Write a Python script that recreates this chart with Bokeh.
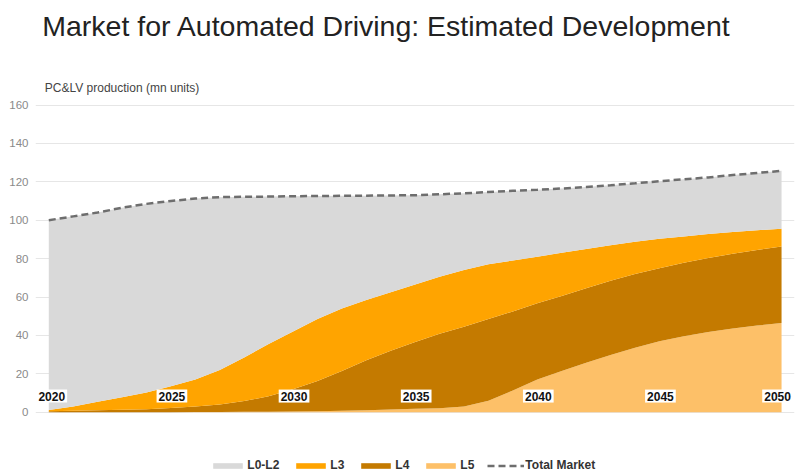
from bokeh.plotting import figure
from bokeh.models import ColumnDataSource, Range1d, FixedTicker, Label, Legend, LegendItem
from bokeh.transform import stack
from bokeh.embed import file_html
from bokeh.resources import INLINE

# ---------------- data ----------------
years = list(range(2020, 2051))
# stacked from the bottom: L5, L4, L3, L0-L2 (mn units)
l5 = [0, 0, 0, 0, 0, 0, 0.1, 0.1, 0.2, 0.2,
      0.3, 0.5, 0.7, 1.0, 1.4, 1.8, 2.1, 3.0, 6.0, 11.3,
      17.0, 21.5, 25.7, 29.8, 33.6, 36.9, 39.6, 41.8, 43.6, 45.1,
      46.4]
l4 = [0.5, 0.7, 1.0, 1.3, 1.6, 2.2, 2.9, 3.9, 5.6, 8.1,
      11.7, 15.7, 20.8, 26.0, 30.6, 34.7, 38.7, 41.5, 42.5, 41.2,
      39.8, 39.0, 38.8, 38.7, 38.4, 38.1, 38.2, 38.5, 38.9, 39.4,
      39.9]
l3 = [0.7, 2.3, 4.4, 6.5, 8.7, 11.3, 14.0, 18.0, 22.7, 27.2,
      30.0, 32.3, 32.5, 31.5, 30.5, 30.0, 29.7, 29.5, 28.5, 26.5,
      24.2, 22.5, 20.5, 18.5, 16.8, 15.3, 13.7, 12.5, 11.4, 10.3,
      9.3]
l0_l2 = [98.8, 99.0, 98.6, 98.7, 98.2, 96.5, 94.3, 90.0, 83.7, 76.8,
         70.5, 64.1, 58.7, 54.3, 50.4, 46.5, 43.0, 40.0, 37.7, 36.3,
         34.8, 33.5, 32.3, 31.2, 30.4, 30.0, 29.8, 29.5, 29.6, 29.8,
         30.1]
label_years = [2020, 2025, 2030, 2035, 2040, 2045, 2050]
y_ticks = [0, 20, 40, 60, 80, 100, 120, 140, 160]
series_labels = ["L0-L2", "L3", "L4", "L5"]
total_label = "Total Market"
title_text = "Market for Automated Driving: Estimated Development"
subtitle_text = "PC&LV production (mn units)"

# ---------------- styling ----------------
FONT = "Liberation Sans"
C_L02 = "#D9D9D9"
C_L3 = "#FFA400"
C_L4 = "#C47A00"
C_L5 = "#FDC068"

src = ColumnDataSource(dict(year=years, l5=l5, l4=l4, l3=l3, l02=l0_l2))

# the frame spans the whole canvas height; the value axis only labels 0..160
p = figure(frame_width=759, frame_height=476, output_backend="svg",
           toolbar_location=None,
           x_range=Range1d(2019.456, 2050.53), y_range=Range1d(-33.49, 214.43),
           x_axis_location=None, min_border_left=35, min_border_right=6,
           min_border_top=0, min_border_bottom=0)
p.outline_line_color = None
p.background_fill_color = "white"
p.border_fill_color = "white"

p.xgrid.grid_line_color = None
p.ygrid.grid_line_color = "#E6E6E6"
p.ygrid.grid_line_width = 1
p.ygrid.ticker = FixedTicker(ticks=y_ticks)
p.yaxis.ticker = FixedTicker(ticks=y_ticks)
p.yaxis.axis_line_color = None
p.yaxis.major_tick_line_color = None
p.yaxis.minor_tick_line_color = None
p.yaxis.major_tick_out = 0
p.yaxis.major_tick_in = 0
p.yaxis.major_label_standoff = 7
p.yaxis.major_label_text_font = FONT
p.yaxis.major_label_text_font_size = "11.5px"
p.yaxis.major_label_text_color = "#8A8A8A"

rs = p.varea_stack(stackers=["l5", "l4", "l3", "l02"], x="year", source=src,
                   color=[C_L5, C_L4, C_L3, C_L02])
r_l5, r_l4, r_l3, r_l02 = rs

r_total = p.line(x="year", y=stack("l5", "l4", "l3", "l02"), source=src,
                 line_color="#6E6E6E", line_width=2.5, line_dash="7 4")

for i, yr in enumerate(label_years):
    off = 3 if i == 0 else (-4 if i == len(label_years) - 1 else 1)
    p.add_layout(Label(x=yr, y=8.4, x_offset=off, text=str(yr), text_align="center",
                       text_baseline="middle", text_font=FONT,
                       text_font_style="bold", text_font_size="12px",
                       text_color="#111111", background_fill_color="white",
                       padding=2))

# title and subtitle (screen units, measured from the frame's bottom-left)
p.add_layout(Label(x=6.7, y=451, x_units="screen", y_units="screen",
                   text=title_text, text_font=FONT, text_font_size="28.5px",
                   text_color="#222222", text_baseline="alphabetic"))
p.add_layout(Label(x=9.3, y=388.7, x_units="screen", y_units="screen",
                   text=subtitle_text, text_font=FONT, text_font_size="12px",
                   text_color="#444444", text_baseline="alphabetic"))

legend = Legend(items=[LegendItem(label=series_labels[0], renderers=[r_l02]),
                       LegendItem(label=series_labels[1], renderers=[r_l3]),
                       LegendItem(label=series_labels[2], renderers=[r_l4]),
                       LegendItem(label=series_labels[3], renderers=[r_l5]),
                       LegendItem(label=total_label, renderers=[r_total])],
                orientation="horizontal", location=(174.3, 4),
                glyph_width=37, glyph_height=7, label_height=14, label_width=0,
                label_standoff=1, spacing=13, padding=0, margin=0,
                border_line_color=None, background_fill_alpha=0,
                label_text_font=FONT, label_text_font_style="bold",
                label_text_font_size="12px", label_text_color="#333333")
p.add_layout(legend)

open("out.html", "w").write(file_html(p, INLINE))
